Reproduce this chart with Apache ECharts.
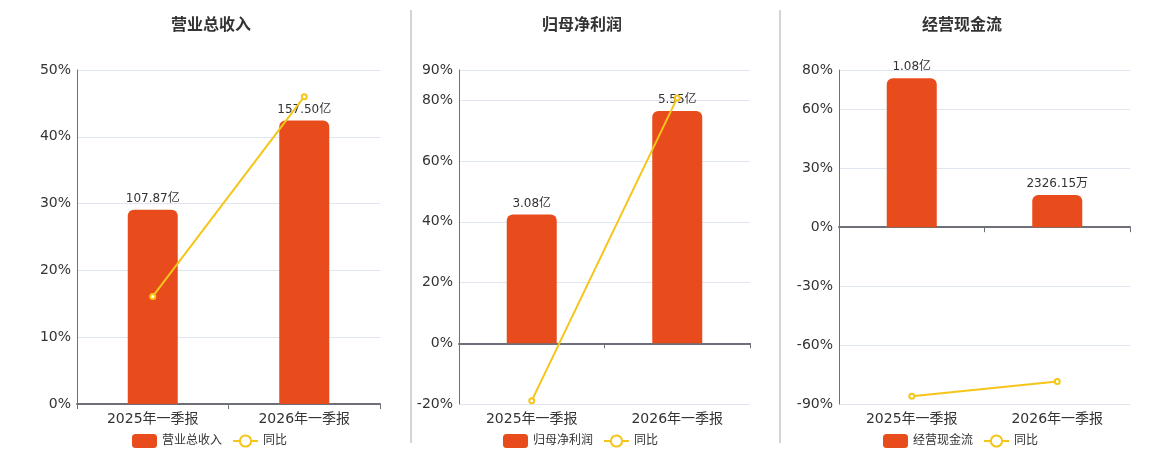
<!DOCTYPE html>
<html>
<head>
<meta charset="utf-8">
<script src="https://cdn.jsdelivr.net/npm/echarts@6/dist/echarts.min.js"></script>
<style>
html,body{margin:0;padding:0;background:#fff;}
#main{width:1160px;height:450px;}
</style>
</head>
<body>
<div id="main"></div>
<script>
// ---- data ----
var categories = ['2025年一季报', '2026年一季报'];
var titles = ['营业总收入', '归母净利润', '经营现金流'];
// bar values in 亿
var revenueValues = [107.87, 157.50];
var profitValues = [3.08, 5.55];
var cashValues = [1.08, 0.232615];
// bar labels
var revenueLabels = ['107.87亿', '157.50亿'];
var profitLabels = ['3.08亿', '5.55亿'];
var cashLabels = ['1.08亿', '2326.15万'];
// 同比 (%)
var revenueYoY = [16.1, 46.0];
var profitYoY = [-18.9, 80.8];
var cashYoY = [-86.1, -78.6];
// percent axis ranges
var pctMin = [0, -20, -90];
var pctMax = [50, 90, 80];
var pctInterval = [10, 20, 30];

var BAR_COLOR = '#E84C1C';
var LINE_COLOR = '#F5C518';
var FONT = '"DejaVu Sans", "Noto Sans CJK SC", sans-serif';

var panels = [
  {title: titles[0], bars: revenueValues, labels: revenueLabels, yoy: revenueYoY, barMin: 0, barMax: 185.5,
   grid: {left: 77, width: 303}, center: 206},
  {title: titles[1], bars: profitValues, labels: profitLabels, yoy: profitYoY, barMin: -1.451, barMax: 6.53,
   grid: {left: 459, width: 291}, center: 577},
  {title: titles[2], bars: cashValues, labels: cashLabels, yoy: cashYoY, barMin: -1.2825, barMax: 1.14,
   grid: {left: 839, width: 291}, center: 957}
];

var option = {
  animation: false,
  backgroundColor: '#fff',
  textStyle: {fontFamily: FONT},
  title: [], legend: [], grid: [], xAxis: [], yAxis: [], series: [],
  graphic: [
    {type: 'line', shape: {x1: 411, y1: 10, x2: 411, y2: 443}, style: {stroke: '#aaaaaa', lineWidth: 1}},
    {type: 'line', shape: {x1: 780, y1: 10, x2: 780, y2: 443}, style: {stroke: '#aaaaaa', lineWidth: 1}}
  ]
};

panels.forEach(function (p, i) {
  option.title.push({
    text: p.title, left: p.center, top: 13, textAlign: 'center',
    textStyle: {fontSize: 16, fontWeight: 'bold', color: '#333', fontFamily: FONT}
  });
  option.legend.push({
    data: [p.title, '同比'], left: p.center - 79, top: 429,
    itemWidth: 25, itemHeight: 14, itemGap: 10,
    textStyle: {fontSize: 12, color: '#333', fontFamily: FONT}
  });
  option.grid.push({left: p.grid.left, width: p.grid.width, top: 70, height: 334});
  option.xAxis.push({
    type: 'category', gridIndex: i, data: categories,
    axisLine: {lineStyle: {color: '#6E7079', width: 2}},
    axisTick: {show: true, lineStyle: {color: '#6E7079'}},
    axisLabel: {fontSize: 14, color: '#333', margin: 8, fontFamily: FONT}
  });
  option.yAxis.push({
    type: 'value', gridIndex: i, min: pctMin[i], max: pctMax[i], interval: pctInterval[i],
    axisLine: {show: true, lineStyle: {color: '#6E7079', width: 1}},
    axisTick: {show: false},
    axisLabel: {fontSize: 14, color: '#333', formatter: '{value}%', margin: 6, fontFamily: FONT},
    splitLine: {lineStyle: {color: '#E0E6F1'}}
  });
  option.yAxis.push({
    type: 'value', gridIndex: i, min: p.barMin, max: p.barMax, show: false,
    splitLine: {show: false}
  });
  option.series.push({
    name: p.title, type: 'bar', xAxisIndex: i, yAxisIndex: i * 2 + 1,
    data: p.bars.map(function (v, k) { return {value: v, label: {formatter: p.labels[k]}}; }),
    barWidth: 50,
    itemStyle: {color: BAR_COLOR, borderRadius: [6, 6, 0, 0]},
    label: {show: true, position: 'top', fontSize: 12, color: '#333', distance: 5, fontFamily: FONT}
  });
  option.series.push({
    name: '同比', type: 'line', xAxisIndex: i, yAxisIndex: i * 2,
    data: p.yoy, symbol: 'emptyCircle', symbolSize: 5,
    lineStyle: {color: LINE_COLOR, width: 2},
    itemStyle: {color: LINE_COLOR, borderWidth: 2},
    z: 5
  });
});

var chart = echarts.init(document.getElementById('main'));
chart.setOption(option);
</script>
</body>
</html>
